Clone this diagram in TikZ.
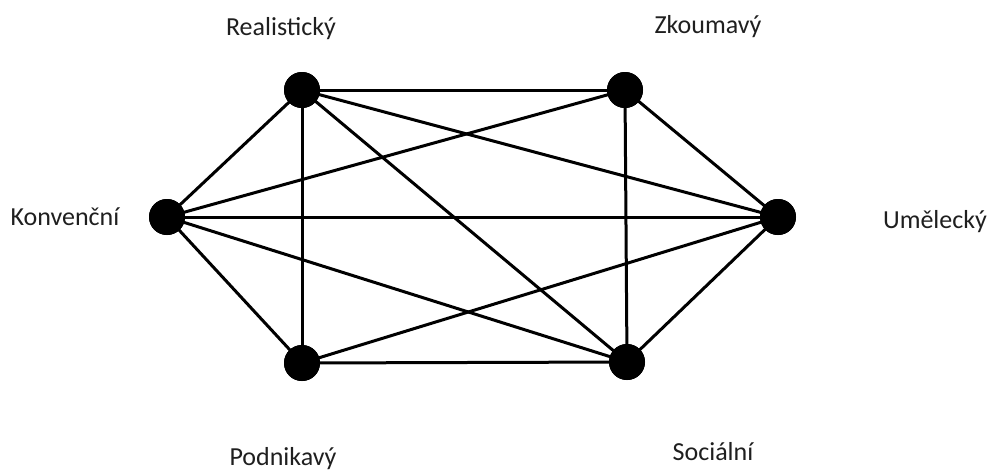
\documentclass[tikz,border=0pt]{standalone}
\usepackage{fontspec}
\setmainfont{Carlito}
\begin{document}
\begin{tikzpicture}[x=1pt,y=-1pt,
  dot/.style={circle,fill=black,inner sep=0pt,minimum size=36pt},
  lbl/.style={anchor=base,text=black!88,font=\fontsize{26}{30}\selectfont,inner sep=0pt},
  edge/.style={line width=3pt,black}]
\useasboundingbox (0,0) rectangle (992,472);
\node[dot] (R) at (302,90) {};
\node[dot] (Z) at (625,90) {};
\node[dot] (K) at (167,217) {};
\node[dot] (U) at (778,217) {};
\node[dot] (P) at (302,363) {};
\node[dot] (S) at (627,362) {};
\node[lbl] (lR) at (281,35) {Realistický};
\node[lbl] (lZ) at (708,33) {Zkoumavý};
\node[lbl] (lK) at (65,225) {Konvenční};
\node[lbl] (lU) at (935,228) {Umělecký};
\node[lbl] (lP) at (283,465) {Podnikavý};
\node[lbl] (lS) at (713,460) {Sociální};
\begin{scope}[on background layer/.style={}]
\foreach \a/\b in {R/Z,R/K,R/P,R/S,R/U,Z/K,Z/U,Z/S,K/U,K/S,K/P,P/S,P/U,S/U}
  \draw[edge] (\a.center) -- (\b.center);
\end{scope}
\foreach \n in {R,Z,K,U,P,S}
  \fill (\n) circle (18pt);
\end{tikzpicture}
\end{document}
